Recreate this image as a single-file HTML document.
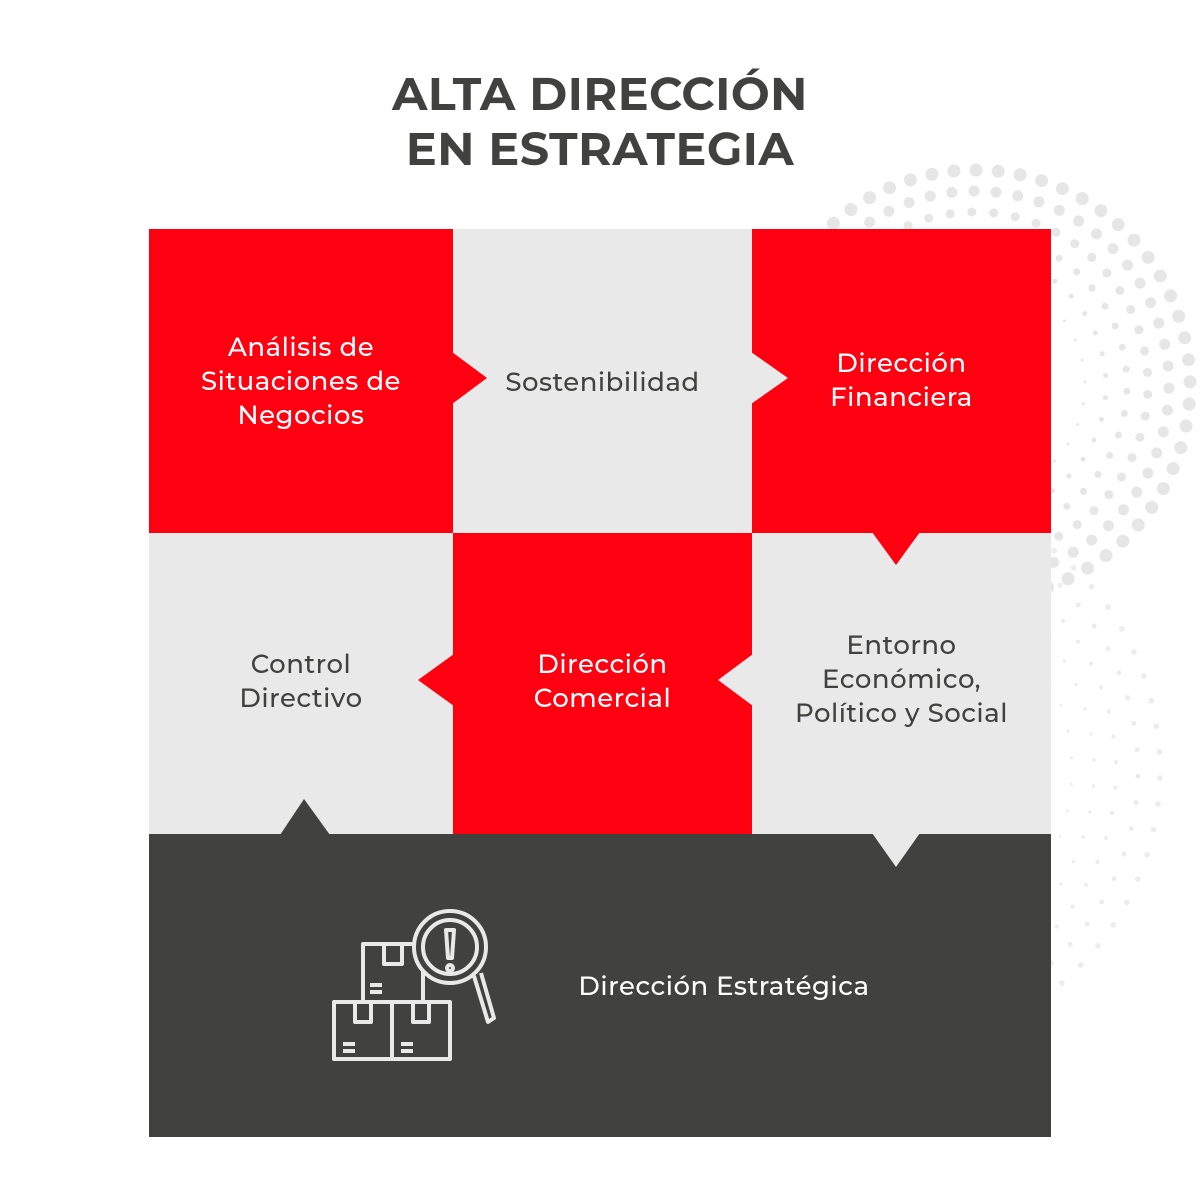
<!DOCTYPE html>
<html><head><meta charset="utf-8"><style>
body{margin:0;width:1200px;height:1200px;background:#fff;position:relative;overflow:hidden;font-family:"Montserrat","Liberation Sans",sans-serif}
.t{position:absolute;text-align:center;font-size:26px;line-height:34px;letter-spacing:0.5px;font-weight:500}
</style></head><body>
<svg id="s" width="1200" height="1200" style="position:absolute;left:0;top:0">
<g id="dots"></g>
<rect x="149" y="229" width="304" height="304" fill="#fe000f"/>
<rect x="453" y="229" width="299" height="304" fill="#e9e9e9"/>
<rect x="752" y="229" width="299" height="304" fill="#fe000f"/>
<rect x="149" y="533" width="304" height="301" fill="#e9e9e9"/>
<rect x="453" y="533" width="299" height="301" fill="#fe000f"/>
<rect x="752" y="533" width="299" height="301" fill="#e9e9e9"/>
<rect x="149" y="834" width="902" height="303" fill="#414140"/>
<polygon points="452,352 487,378 452,404" fill="#fe000f"/>
<polygon points="751,352 788,378 751,404" fill="#e9e9e9"/>
<polygon points="872,532 896,565 920,532" fill="#fe000f"/>
<polygon points="454,654 418,680 454,706" fill="#fe000f"/>
<polygon points="753,654 718,680 753,706" fill="#e9e9e9"/>
<polygon points="280,835 304,799 330,835" fill="#414140"/>
<polygon points="872,833 896,867 920,833" fill="#e9e9e9"/>
<g fill="none" stroke="#e9e9e9" stroke-width="4" stroke-linejoin="round">
<rect x="363" y="944" width="60" height="58"/>
<rect x="384" y="944" width="18" height="20"/>
<rect x="334" y="1002" width="58" height="57"/>
<rect x="392" y="1002" width="58" height="57"/>
<rect x="355" y="1002" width="16" height="20"/>
<rect x="413" y="1002" width="16" height="20"/>
<circle cx="450" cy="947" r="36" fill="#414140"/>
<circle cx="450" cy="947" r="27"/>
<path d="M474,976 L488,1022 L494,1018 L481,973"/>
<path d="M446,930 L454,930 L452,958 L448,958 Z"/>
<circle cx="450" cy="968" r="3"/>
<path d="M370,985h12M370,992h12M343,1044h12M343,1051h12M401,1044h12M401,1051h12"/>
</g>
</svg>
<div class="t" style="left:300px;top:66px;width:600px;font-size:46px;line-height:55px;font-weight:bold;color:#414140">ALTA DIRECCIÓN<br>EN ESTRATEGIA</div>
<div class="t" style="left:149px;top:330px;width:304px;color:#fff">Análisis de<br>Situaciones de<br>Negocios</div>
<div class="t" style="left:453px;top:365px;width:299px;color:#414140">Sostenibilidad</div>
<div class="t" style="left:752px;top:346px;width:299px;color:#fff">Dirección<br>Financiera</div>
<div class="t" style="left:149px;top:647px;width:304px;color:#414140">Control<br>Directivo</div>
<div class="t" style="left:453px;top:647px;width:299px;color:#fff">Dirección<br>Comercial</div>
<div class="t" style="left:752px;top:628px;width:299px;color:#414140">Entorno<br>Económico,<br>Político y Social</div>
<div class="t" style="left:524px;top:969px;width:400px;color:#fff">Dirección Estratégica</div>
<script>
var g=document.getElementById('dots'),h='';
function ring(cx,cy,r0,r1,n,a0,a1,rad,col){for(var r=r0;r<=r1;r+=n.step){var cnt=Math.round(r*(a1-a0)/n.sp);for(var i=0;i<=cnt;i++){var a=a0+(a1-a0)*i/cnt;var x=cx+r*Math.cos(a),y=cy+r*Math.sin(a);h+='<circle cx="'+x.toFixed(1)+'" cy="'+y.toFixed(1)+'" r="'+rad(r).toFixed(1)+'" fill="'+col+'"/>';}}}
ring(975,385,110,215,{step:21,sp:22},-2.6,1.95,function(r){return 1.5+(r-110)/105*5},'#e6e6e6');
ring(880,770,170,290,{step:22,sp:26},-0.9,1.05,function(r){return 1+(r-170)/120*2},'#ececec');
g.innerHTML=h;
</script>
</body></html>
